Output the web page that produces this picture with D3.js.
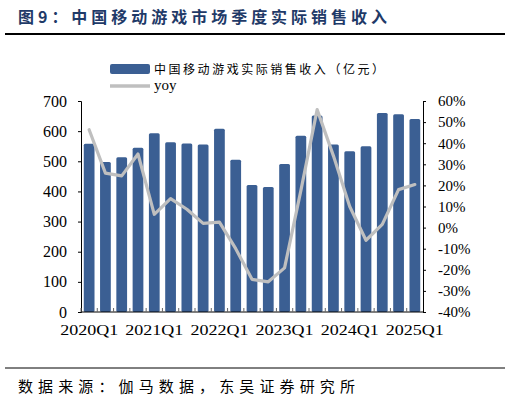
<!DOCTYPE html>
<html>
<head>
<meta charset="utf-8">
<script src="https://cdn.jsdelivr.net/npm/d3@7/dist/d3.min.js"></script>
<style>
body { margin: 0; background: #fff; }
.num { font-family: "Liberation Serif", "Times New Roman", serif; font-size: 15px; fill: #000; }
.cjk { font-family: "Noto Sans CJK SC", sans-serif; }
</style>
</head>
<body>
<div id="d3-container"></div>
<script>
let quarters = ["2020Q1","2020Q2","2020Q3","2020Q4","2021Q1","2021Q2","2021Q3","2021Q4",
    "2022Q1","2022Q2","2022Q3","2022Q4","2023Q1","2023Q2","2023Q3","2023Q4",
    "2024Q1","2024Q2","2024Q3","2024Q4","2025Q1"];
let revenue = [558, 498, 513, 545, 593, 563, 559, 556, 608, 505, 421, 415, 491, 585, 652, 556, 533, 550, 660, 656, 640];
let yoy = [46.4, 25.8, 24.5, 34.9, 6.3, 13.7, 8.7, 2.0, 2.6, -10.0, -24.5, -25.7, -19.1, 17.5, 55.9, 34.0, 10.0, -6.0, 1.5, 18.0, 20.4];
let left_ticks = [0, 100, 200, 300, 400, 500, 600, 700];
let right_ticks = [-40, -30, -20, -10, 0, 10, 20, 30, 40, 50, 60];
let x_labels = ["2020Q1", "2021Q1", "2022Q1", "2023Q1", "2024Q1", "2025Q1"];

let bar_color = "#3b5f93";
let line_color = "#bfbfbf";

let plot_left = 81;
let plot_right = 423;
let plot_top = 101;
let plot_bottom = 312;

let svg = d3.select("#d3-container").append("svg")
    .attr("width", 510)
    .attr("height", 402);

// title
svg.append("text")
    .classed("cjk", true)
    .attr("x", 18)
    .attr("y", 23)
    .attr("font-size", 16)
    .attr("font-weight", "bold")
    .attr("fill", "#1f3a68")
    .attr("textLength", 369)
    .attr("lengthAdjust", "spacing")
    .text("图9：中国移动游戏市场季度实际销售收入");
svg.append("line")
    .attr("x1", 5).attr("x2", 505)
    .attr("y1", 34).attr("y2", 34)
    .attr("stroke", "#000")
    .attr("stroke-width", 2);

// scales
let x = d3.scaleBand()
    .domain(quarters)
    .range([plot_left, plot_right])
    .paddingInner(0.34)
    .paddingOuter(0.17);
let y_left = d3.scaleLinear().domain([0, 700]).range([plot_bottom, plot_top]);
let y_right = d3.scaleLinear().domain([-40, 60]).range([plot_bottom, plot_top]);

// bars
svg.selectAll(".bar")
    .data(revenue)
    .enter()
    .append("rect")
    .classed("bar", true)
    .attr("x", (d, i) => x(quarters[i]))
    .attr("y", d => y_left(d))
    .attr("width", x.bandwidth())
    .attr("height", d => plot_bottom - y_left(d))
    .attr("rx", 1.5)
    .attr("fill", bar_color);

// yoy line
let line = d3.line()
    .x((d, i) => x(quarters[i]) + x.bandwidth() / 2)
    .y(d => y_right(d));
svg.append("path")
    .datum(yoy)
    .attr("d", line)
    .attr("fill", "none")
    .attr("stroke", line_color)
    .attr("stroke-width", 3.2)
    .attr("stroke-linejoin", "round")
    .attr("stroke-linecap", "round");

// left axis
let left_axis = svg.append("g")
    .attr("transform", "translate(" + plot_left + ",0)")
    .call(d3.axisLeft(y_left).tickValues(left_ticks).tickSize(3).tickPadding(11));
left_axis.selectAll("text").classed("num", true).attr("font-family", null).attr("font-size", null)
    .style("font-size", "16px");

// right axis
let right_axis = svg.append("g")
    .attr("transform", "translate(" + plot_right + ",0)")
    .call(d3.axisRight(y_right).tickValues(right_ticks).tickSize(3).tickPadding(12)
        .tickFormat(d => d + "%"));
right_axis.selectAll("text").classed("num", true).attr("font-family", null).attr("font-size", null)
    .attr("text-anchor", "start");

// bottom axis: inward ticks on band edges
let bottom = svg.append("g");
bottom.append("line")
    .attr("x1", plot_left).attr("x2", plot_right)
    .attr("y1", plot_bottom).attr("y2", plot_bottom)
    .attr("stroke", "#000");
bottom.selectAll(".xtick")
    .data(quarters)
    .enter()
    .append("line")
    .attr("x1", (d, i) => x(d) - x.step() * x.paddingInner() / 2)
    .attr("x2", (d, i) => x(d) - x.step() * x.paddingInner() / 2)
    .attr("y1", plot_bottom)
    .attr("y2", plot_bottom - 4)
    .attr("stroke", "#666");
bottom.selectAll(".xlabel")
    .data(x_labels)
    .enter()
    .append("text")
    .classed("num", true)
    .attr("x", d => x(d) + x.bandwidth() / 2)
    .attr("y", 335)
    .attr("text-anchor", "middle")
    .attr("textLength", 58)
    .attr("lengthAdjust", "spacingAndGlyphs")
    .text(d => d);

svg.selectAll(".domain").attr("stroke", "#000");
svg.selectAll(".tick line").attr("stroke", "#000");

// legend
svg.append("rect")
    .attr("x", 110).attr("y", 64)
    .attr("width", 40).attr("height", 10)
    .attr("rx", 2)
    .attr("fill", bar_color);
svg.append("text")
    .classed("cjk", true)
    .attr("x", 154)
    .attr("y", 74)
    .attr("font-size", 12)
    .attr("textLength", 230)
    .attr("lengthAdjust", "spacing")
    .text("中国移动游戏实际销售收入（亿元）");
svg.append("line")
    .attr("x1", 110).attr("x2", 150)
    .attr("y1", 86).attr("y2", 86)
    .attr("stroke", line_color)
    .attr("stroke-width", 3.5);
svg.append("text")
    .classed("num", true)
    .attr("x", 154)
    .attr("y", 90)
    .text("yoy");

// footer
svg.append("line")
    .attr("x1", 5).attr("x2", 505)
    .attr("y1", 368).attr("y2", 368)
    .attr("stroke", "#000")
    .attr("stroke-width", 1);
svg.append("text")
    .classed("cjk", true)
    .attr("x", 18)
    .attr("y", 392)
    .attr("font-size", 15)
    .attr("textLength", 337)
    .attr("lengthAdjust", "spacing")
    .text("数据来源：伽马数据，东吴证券研究所");
</script>
</body>
</html>
